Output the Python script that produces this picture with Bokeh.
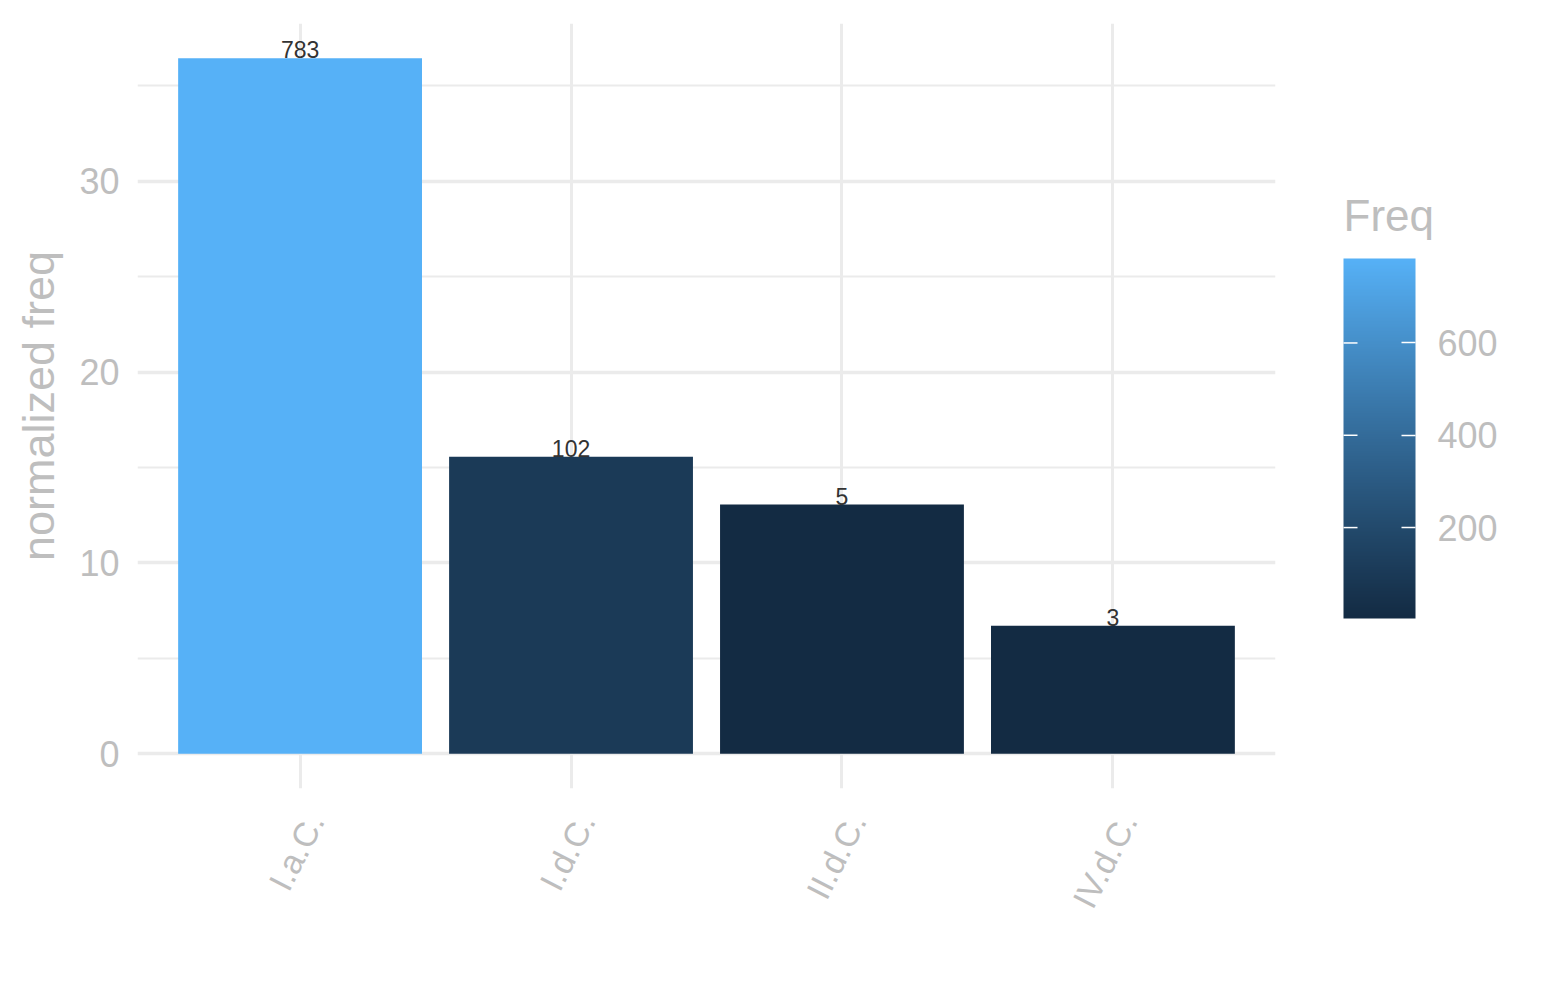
import numpy as np
from bokeh.plotting import figure
from bokeh.layouts import row
from bokeh.models import (ColumnDataSource, Range1d, FixedTicker, LinearColorMapper,
                          ColorBar)
from bokeh.core.properties import value
from bokeh.embed import file_html
from bokeh.resources import INLINE

# ---- data ----
categories = ["I.a.C.", "I.d.C.", "II.d.C.", "IV.d.C."]
norm_freq = [36.45, 15.57, 13.06, 6.71]
freq = [783, 102, 5, 3]
y_ticks = [0, 10, 20, 30]
y_minor = [5, 15, 25, 35]
cbar_ticks = [200, 400, 600]
legend_title = "Freq"

# ---- ggplot-like gradient (#132B43 -> #56B1F7, Lab interpolation) ----
def hex2rgb(h):
    h = h.lstrip("#")
    return np.array([int(h[i:i + 2], 16) / 255 for i in (0, 2, 4)])

def srgb2lin(c):
    return np.where(c <= 0.04045, c / 12.92, ((c + 0.055) / 1.055) ** 2.4)

def lin2srgb(c):
    c = np.clip(c, 0, 1)
    return np.where(c <= 0.0031308, 12.92 * c, 1.055 * c ** (1 / 2.4) - 0.055)

M = np.array([[0.4124, 0.3576, 0.1805], [0.2126, 0.7152, 0.0722], [0.0193, 0.1192, 0.9505]])
Minv = np.linalg.inv(M)
WP = np.array([0.95047, 1.0, 1.08883])

def f(t):
    d = 6 / 29
    return np.where(t > d ** 3, np.cbrt(t), t / (3 * d * d) + 4 / 29)

def finv(t):
    d = 6 / 29
    return np.where(t > d, t ** 3, 3 * d * d * (t - 4 / 29))

def rgb2lab(rgb):
    xyz = M @ srgb2lin(rgb) / WP
    fx, fy, fz = f(xyz)
    return np.array([116 * fy - 16, 500 * (fx - fy), 200 * (fy - fz)])

def lab2hex(lab):
    L, a, b = lab
    fy = (L + 16) / 116
    fx = fy + a / 500
    fz = fy - b / 200
    xyz = finv(np.array([fx, fy, fz])) * WP
    rgb = lin2srgb(Minv @ xyz)
    return "#%02x%02x%02x" % tuple(int(round(v * 255)) for v in rgb)

lab_lo = rgb2lab(hex2rgb("#132B43"))
lab_hi = rgb2lab(hex2rgb("#56B1F7"))
palette = [lab2hex(lab_lo + (lab_hi - lab_lo) * t) for t in np.linspace(0, 1, 256)]

mapper = LinearColorMapper(palette=palette, low=min(freq), high=max(freq))

xs = list(range(1, len(categories) + 1))
src = ColumnDataSource(dict(x=xs, top=norm_freq, freq=freq,
                            lab=[str(v) for v in freq]))

FONT = "Liberation Sans"
GREY = "#bebebe"
H = 984
B_TOP, B_BOTTOM = 23, 196

ymax = max(norm_freq)
pad = ymax * 0.05

# ---------------- main panel ----------------
p = figure(width=1298, height=H, output_backend="svg", toolbar_location=None,
           x_range=Range1d(0.4, len(categories) + 0.6),
           y_range=Range1d(-pad, ymax + pad),
           min_border_left=137, min_border_right=23, min_border_top=B_TOP,
           min_border_bottom=B_BOTTOM)
p.outline_line_color = None
p.background_fill_color = "white"

p.vbar(x="x", top="top", bottom=0, width=0.9, source=src,
       fill_color={"field": "freq", "transform": mapper}, line_color=None)

p.text(x="x", y="top", text="lab", source=src, text_align="center",
       text_baseline="bottom", text_font=value(FONT), text_font_size="23px",
       text_color="#333333", y_offset=0)

# axes (label anchors nudged slightly right of the category centre, as in the original)
label_pos = [x + 0.055 for x in xs]
p.xaxis.ticker = FixedTicker(ticks=label_pos)
p.xaxis.major_label_overrides = {lp: c for lp, c in zip(label_pos, categories)}
p.xaxis.major_label_orientation = np.deg2rad(63)
p.xgrid.ticker = FixedTicker(ticks=xs)
p.yaxis.ticker = FixedTicker(ticks=y_ticks, minor_ticks=y_minor)
p.yaxis.axis_label = "normalized freq"

for ax in (p.xaxis, p.yaxis):
    ax.axis_line_color = None
    ax.major_tick_line_color = None
    ax.minor_tick_line_color = None
    ax.major_tick_out = 0
    ax.major_tick_in = 0
    ax.minor_tick_out = 0
    ax.major_label_text_font = FONT
    ax.major_label_text_font_size = "36px"
    ax.major_label_text_color = GREY
    ax.axis_label_text_font = FONT
    ax.axis_label_text_font_size = "45px"
    ax.axis_label_text_color = GREY
    ax.axis_label_text_font_style = "normal"

p.xaxis.major_label_text_font_size = "34px"
p.yaxis.major_label_standoff = 18
p.yaxis.axis_label_standoff = 12
p.xaxis.major_label_standoff = 27

p.xgrid.grid_line_color = "#ebebeb"
p.xgrid.grid_line_width = 3
p.ygrid.grid_line_color = "#ebebeb"
p.ygrid.grid_line_width = 3.5
p.ygrid.minor_grid_line_color = "#ebebeb"
p.ygrid.minor_grid_line_width = 2

# ---------------- legend panel (pixel-like coordinates, frame aligned with main) ----------------
LW = 1529 - 1298
lg = figure(width=LW, height=H, output_backend="svg", toolbar_location=None,
            x_range=Range1d(0, LW), y_range=Range1d(B_BOTTOM, H - B_TOP),
            x_axis_type=None, y_axis_type=None,
            min_border_left=0, min_border_right=0, min_border_top=B_TOP,
            min_border_bottom=B_BOTTOM)
lg.outline_line_color = None
lg.xgrid.visible = False
lg.ygrid.visible = False

CB_X, CB_Y, CB_W, CB_H = 45, 170, 72, 360
cb = ColorBar(color_mapper=mapper, width=CB_W, height=CB_H,
              ticker=FixedTicker(ticks=cbar_ticks),
              location=(CB_X, CB_Y), padding=0,
              major_label_text_font=FONT, major_label_text_font_size="36px",
              major_label_text_color=GREY, label_standoff=22,
              major_tick_line_color="white", major_tick_line_width=1.5,
              major_tick_in=14, major_tick_out=0,
              bar_line_color=None, border_line_color=None,
              background_fill_alpha=0)
lg.add_layout(cb, "center")

# matching white ticks on the left edge of the colour bar (same linear scale as the bar)
bar_bottom = B_BOTTOM + CB_Y
tick_y = [bar_bottom + (t - mapper.low) / (mapper.high - mapper.low) * CB_H for t in cbar_ticks]
lg.segment(x0=[CB_X] * len(tick_y), x1=[CB_X + 14] * len(tick_y), y0=tick_y, y1=tick_y,
           line_color="white", line_width=1.5, level="overlay")

lg.text(x=[CB_X], y=[H - 215], text=[legend_title], text_align="left",
        text_baseline="alphabetic", text_font=value(FONT), text_font_size="44px",
        text_color=GREY)

layout = row(p, lg)
open("out.html", "w").write(file_html(layout, INLINE))
